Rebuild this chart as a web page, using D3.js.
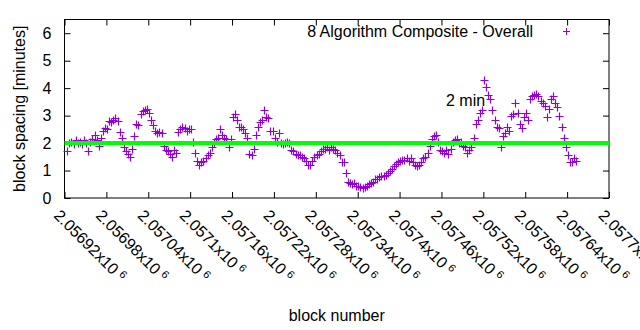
<!DOCTYPE html>
<html>
<head>
<meta charset="utf-8">
<script src="https://cdn.jsdelivr.net/npm/d3@7"></script>
<style>
  body { margin: 0; background: #fff; }
  svg { display: block; font-family: "Liberation Sans", Arial, sans-serif; }
</style>
</head>
<body>
<div id="chart"></div>
<script>
// Block range shown on the x axis and tick positions
const xDomain = [2056920, 2057700];
const xTickValues = [2056920, 2056980, 2057040, 2057100, 2057160, 2057220, 2057280,
                     2057340, 2057400, 2057460, 2057520, 2057580, 2057640, 2057700];
const xTickLabels = ["2.05692", "2.05698", "2.05704", "2.0571", "2.05716", "2.05722", "2.05728",
                     "2.05734", "2.0574", "2.05746", "2.05752", "2.05758", "2.05764", "2.0577"];
const yTickValues = [0, 1, 2, 3, 4, 5, 6];

// Composite spacing, one sample every 3 blocks starting at firstBlock
const firstBlock = 2056924;
const blockStep = 3;
const spacing = [
  1.72, 2.0, 2.05, 1.95, 2.1, 2.0, 2.05, 1.95, 2.1, 2.0,
  1.7, 2.05, 2.15, 2.3, 2.1, 1.88, 2.2, 2.45, 2.55, 2.5,
  2.8, 2.75, 2.85, 2.9, 2.8, 2.42, 2.2, 1.85, 1.7, 1.6,
  1.5, 1.8, 2.25, 2.7, 2.65, 3.05, 3.15, 3.2, 3.25, 3.1,
  2.85, 2.65, 2.45, 2.35, 2.4, 2.35, 1.9, 1.75, 1.7, 1.6,
  1.5, 1.75, 1.65, 2.4, 2.5, 2.6, 2.55, 2.45, 2.5, 2.5,
  2.05, 1.65, 1.35, 1.2, 1.3, 1.35, 1.45, 1.55, 1.65, 1.85,
  2.0, 2.15, 2.2, 2.5, 2.3, 2.2, 2.15, 1.85, 2.15, 2.95,
  3.05, 2.85, 2.6, 2.6, 2.5, 2.35, 2.2, 1.6, 1.55, 1.8,
  2.3, 2.6, 2.75, 2.85, 3.2, 2.95, 2.9, 2.45, 2.45, 2.2,
  2.05, 2.35, 2.0, 1.95, 2.0, 2.05, 2.0, 1.75, 1.7, 1.6,
  1.55, 1.55, 1.5, 1.45, 1.35, 1.2, 1.2, 1.35, 1.5, 1.55,
  1.6, 1.7, 1.8, 1.8, 1.85, 1.75, 1.85, 1.8, 1.75, 1.65,
  1.55, 1.3, 1.3, 0.9, 0.6, 0.55, 0.5, 0.55, 0.45, 0.45,
  0.4, 0.35, 0.4, 0.45, 0.5, 0.55, 0.6, 0.7, 0.7, 0.75,
  0.8, 0.8, 0.85, 0.9, 1.0, 1.05, 1.15, 1.25, 1.3, 1.35,
  1.4, 1.4, 1.45, 1.35, 1.45, 1.3, 1.2, 1.15, 1.2, 1.3,
  1.45, 1.5, 1.65, 1.9, 2.15, 2.25, 2.3, 2.05, 1.75, 1.7,
  1.65, 1.75, 1.6, 1.8, 2.05, 2.1, 2.15, 2.0, 2.05, 1.9,
  1.85, 1.65, 1.75, 1.85, 2.2, 2.7, 2.85, 3.1, 3.2, 4.3,
  4.05, 3.75, 3.6, 3.2, 2.85, 2.6, 2.55, 1.85, 2.25, 2.35,
  2.6, 2.45, 3.0, 3.05, 3.45, 3.1, 2.7, 2.55, 2.95, 3.1,
  2.85, 3.6, 3.7, 3.75, 3.8, 3.7, 3.55, 3.45, 3.35, 2.95,
  3.25, 3.6, 3.7, 3.45, 3.3, 3.0, 2.6, 2.2, 1.85, 1.55,
  1.3, 1.3, 1.45, 1.35
];
const targetSpacing = 2;
const seriesName = "8 Algorithm Composite - Overall";

const width = 640, height = 330;
const margin = {top: 19.5, right: 31, bottom: 132, left: 64.5};
const pointColor = "#9400d3";

const points = spacing.map((v, i) => ({block: firstBlock + i * blockStep, value: v}));

const svg = d3.select("#chart").append("svg")
  .attr("width", width)
  .attr("height", height);

const x = d3.scaleLinear().domain(xDomain).range([margin.left, width - margin.right]);
const y = d3.scaleLinear().domain([0, 6.5]).range([height - margin.bottom, margin.top]);

// Axes with inward ticks on all four sides
svg.append("g")
  .attr("transform", `translate(${margin.left},0)`)
  .call(d3.axisLeft(y).tickValues(yTickValues).tickSize(-6).tickPadding(13).tickFormat(d3.format("d")))
  .call(g => g.select(".domain").remove())
  .call(g => g.selectAll("text").attr("font-size", 16).attr("fill", "#000")
    .attr("font-family", "Liberation Sans, Arial, sans-serif"));

svg.append("g")
  .attr("transform", `translate(${width - margin.right},0)`)
  .call(d3.axisRight(y).tickValues(yTickValues).tickSize(-6).tickFormat(""))
  .call(g => g.select(".domain").remove());

svg.append("g")
  .attr("transform", `translate(0,${height - margin.bottom})`)
  .call(d3.axisBottom(x).tickValues(xTickValues).tickSize(-6).tickFormat(""))
  .call(g => g.select(".domain").remove());

svg.append("g")
  .attr("transform", `translate(0,${margin.top})`)
  .call(d3.axisTop(x).tickValues(xTickValues).tickSize(-6).tickFormat(""))
  .call(g => g.select(".domain").remove());

// Rotated x tick labels with a superscript exponent
const xLabels = svg.append("g")
  .attr("font-size", 16)
  .selectAll("text")
  .data(xTickValues)
  .enter().append("text")
    .attr("transform", d => `translate(${x(d) - 3},${height - margin.bottom + 10}) rotate(45)`)
    .attr("dy", "0.75em");
xLabels.append("tspan").text((d, i) => xTickLabels[i] + "x10");
xLabels.append("tspan").attr("font-size", 11).attr("dx", 4).attr("dy", -5).text("6");

// Frame
svg.append("rect")
  .attr("x", margin.left).attr("y", margin.top)
  .attr("width", width - margin.right - margin.left)
  .attr("height", height - margin.bottom - margin.top)
  .attr("fill", "none").attr("stroke", "#000");

// Axis titles
svg.append("text")
  .attr("transform", `translate(25,${(margin.top + height - margin.bottom) / 2}) rotate(-90)`)
  .attr("text-anchor", "middle")
  .attr("font-size", 16)
  .text("block spacing [minutes]");

svg.append("text")
  .attr("x", (margin.left + width - margin.right) / 2)
  .attr("y", 321)
  .attr("text-anchor", "middle")
  .attr("font-size", 16)
  .text("block number");

// Data points as plus markers, snapped to the pixel grid
const plus = (cx, cy, s) => {
  cx = Math.round(cx) + 0.5;
  cy = Math.round(cy) + 0.5;
  return `M${cx - s},${cy}H${cx + s}M${cx},${cy - s}V${cy + s}`;
};

svg.append("path")
  .attr("d", points.map(p => plus(x(p.block), y(p.value), 4)).join(""))
  .attr("stroke", pointColor)
  .attr("stroke-width", 1.2)
  .attr("fill", "none");

// 2 minute target line
svg.append("line")
  .attr("x1", x(xDomain[0])).attr("x2", x(xDomain[1]))
  .attr("y1", y(targetSpacing)).attr("y2", y(targetSpacing))
  .attr("stroke", "#00ff00")
  .attr("stroke-width", 4);

svg.append("text")
  .attr("x", 446)
  .attr("y", 106)
  .attr("font-size", 16)
  .text("2 min");

// Legend
svg.append("text")
  .attr("x", 533)
  .attr("y", 37)
  .attr("text-anchor", "end")
  .attr("font-size", 16)
  .text(seriesName);

svg.append("path")
  .attr("d", plus(566, 31, 3.5))
  .attr("stroke", pointColor)
  .attr("fill", "none");
</script>
</body>
</html>
